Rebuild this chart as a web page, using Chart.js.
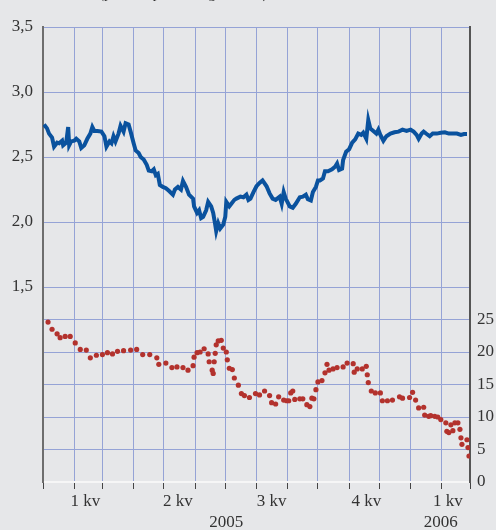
<!DOCTYPE html>
<html>
<head>
<meta charset="utf-8">
<script src="https://cdn.jsdelivr.net/npm/chart.js@4.4.1/dist/chart.umd.min.js"></script>
<style>
  html, body { margin: 0; padding: 0; background: #e6e7e9; overflow: hidden; }
  #wrap { position: relative; width: 496px; height: 530px; }
  #note { position: absolute; left: 99px; top: -15px; font: 15px "Liberation Serif", serif; color: #333; white-space: nowrap; }
</style>
</head>
<body>
<div id="wrap">
  <canvas id="chart" width="496" height="530"></canvas>
  <div id="note">(procent per år, dagsvärden)</div>
</div>
<script>
// x values are days counted from 1 Jan 2005
const monthStarts = [0, 31, 59, 90, 120, 151, 181, 212, 243, 273, 304, 334, 365, 396, 424];
const quarterDays = [42, 134, 227, 321, 402];
const quarterLabels = ['1 kv', '2 kv', '3 kv', '4 kv', '1 kv'];
const yearDays = [182, 395];
const yearLabels = ['2005', '2006'];

// daily rate, left axis
const rateDays = [1,4,6,9,11,14,16,19,20,23,25,26,28,31,33,36,38,41,44,47,49,51,54,58,61,63,66,68,70,72,
  75,77,80,82,85,87,90,92,95,97,100,103,105,108,110,112,114,116,119,122,125,129,131,134,137,139,142,145,149,150,
  153,155,157,159,162,164,167,169,171,172,174,176,179,181,182,185,187,190,192,196,199,202,204,
  206,209,212,215,218,222,225,228,231,235,237,239,241,245,248,251,255,258,261,263,266,268,271,273,275,278,
  280,283,287,290,292,294,297,298,301,304,307,310,313,316,318,321,323,325,328,331,333,335,338,341,345,349,
  353,357,361,365,368,371,373,376,378,381,384,387,391,395,399,403,407,411,415,418,421];
const rateValues = [2.75,2.72,2.68,2.65,2.58,2.61,2.605,2.625,2.59,2.61,2.73,2.59,2.62,2.625,2.64,2.62,2.57,2.59,2.64,2.68,
  2.73,2.70,2.70,2.695,2.66,2.58,2.62,2.605,2.66,2.62,2.68,2.74,2.695,2.76,2.75,2.695,2.605,2.55,2.53,2.50,
  2.48,2.44,2.395,2.39,2.405,2.36,2.37,2.285,2.27,2.26,2.24,2.21,2.25,2.27,2.25,2.315,2.27,2.21,2.18,2.12,
  2.07,2.09,2.03,2.04,2.09,2.155,2.12,2.07,1.98,1.93,1.99,1.95,1.98,2.04,2.155,2.12,2.14,2.17,2.18,2.195,
  2.19,2.21,2.17,
  2.18,2.23,2.275,2.30,2.32,2.275,2.22,2.18,2.17,2.195,2.14,2.23,2.18,2.12,2.11,2.14,2.19,2.195,2.21,2.175,
  2.165,2.23,2.27,2.32,2.32,2.335,2.39,2.39,2.405,2.425,2.45,2.40,2.41,2.477,2.54,2.56,2.61,2.636,2.68,2.67,
  2.687,2.64,2.785,2.72,2.70,2.68,2.71,2.67,2.625,2.66,2.68,2.69,2.695,2.71,2.70,2.71,2.695,2.67,2.64,2.68,
  2.695,2.677,2.66,2.68,2.68,2.687,2.69,2.68,2.68,2.68,2.67,2.677,2.677];

// dotted series, right axis
const dotDays = [5,9,14,17,22,27,32,37,43,47,53,59,64,69,74,80,87,93,99,106,
  113,115,122,128,133,139,144,149,150,153,156,160,164,165,168,169,170,171,172,174,
  177,179,182,183,185,188,190,194,197,200,205,211,215,
  220,225,227,231,234,239,242,244,246,248,250,255,258,262,265,267,269,271,273,277,
  280,282,284,288,292,298,302,308,309,312,317,321,322,323,326,330,335,337,342,347,
  354,357,364,367,370,373,378,379,383,385,389,392,395,400,401,403,405,407,409,412,
  414,415,416,421,422,423];
const dotValues = [24.6,23.5,22.8,22.2,22.4,22.4,21.4,20.4,20.3,19.1,19.5,19.6,19.9,19.7,20.1,20.2,20.3,20.4,19.6,19.6,
  19.1,18.1,18.3,17.6,17.7,17.6,17.2,17.9,19.2,19.9,20.0,20.5,19.7,18.5,17.2,16.7,18.5,19.8,21.1,21.7,
  21.8,20.6,20.0,18.8,17.5,17.3,16.0,14.9,13.6,13.3,13.0,13.6,13.4,
  14.0,13.3,12.2,12.0,13.1,12.6,12.5,12.5,13.7,14.0,12.7,12.8,12.8,11.9,11.6,12.9,12.8,14.2,15.4,15.6,
  16.8,18.1,17.2,17.4,17.6,17.7,18.3,18.2,16.9,17.4,17.4,17.8,16.5,15.3,14.0,13.7,13.7,12.5,12.5,12.6,
  13.1,12.9,13.0,13.8,12.6,11.4,11.5,10.3,10.1,10.2,10.1,10.0,9.6,9.1,7.8,7.6,8.8,7.9,9.1,9.1,
  8.1,6.8,5.8,6.5,5.3,4.0];

const gridBlue = '#95a3d6';
const blank = 'rgba(0,0,0,0)';

Chart.defaults.font.family = '"Liberation Serif", "Times New Roman", serif';
Chart.defaults.font.size = 17;
Chart.defaults.color = '#333';

const xLabel = v => {
  const q = quarterDays.indexOf(v);
  if (q >= 0) return quarterLabels[q];
  const y = yearDays.indexOf(v);
  if (y >= 0) return ['', yearLabels[y]];
  return '';
};

new Chart(document.getElementById('chart'), {
  type: 'line',
  data: {
    datasets: [
      {
        data: rateDays.map((d, i) => ({ x: d, y: rateValues[i] })),
        yAxisID: 'y',
        borderColor: '#0a529e',
        borderWidth: 4,
        pointRadius: 0,
        tension: 0,
      },
      {
        data: dotDays.map((d, i) => ({ x: d, y: dotValues[i] })),
        yAxisID: 'y2',
        showLine: false,
        pointRadius: 2.6,
        pointBorderWidth: 0,
        backgroundColor: '#b3322d',
      },
    ],
  },
  options: {
    responsive: false,
    animation: false,
    layout: { padding: { top: 27, left: 0, right: 0, bottom: 0 } },
    plugins: { legend: { display: false }, tooltip: { enabled: false } },
    scales: {
      x: {
        type: 'linear',
        min: 0,
        max: 424,
        afterBuildTicks: s => {
          s.ticks = [...monthStarts, ...quarterDays, ...yearDays].sort((a, b) => a - b).map(v => ({ value: v }));
        },
        afterFit: s => { s.height = 48; },
        grid: {
          color: c => (c.tick && monthStarts.includes(c.tick.value)) ? gridBlue : blank,
          tickColor: c => (c.tick && monthStarts.includes(c.tick.value)) ? '#444' : blank,
          tickLength: 7,
        },
        border: { color: '#f6f6f6', width: 2 },
        ticks: { autoSkip: false, maxRotation: 0, padding: 2.5, callback: v => xLabel(v) },
      },
      y: {
        position: 'left',
        min: 0,
        max: 3.5,
        afterFit: s => { s.width = 43; },
        grid: { color: c => (c.tick && c.tick.value > 0) ? gridBlue : blank, drawTicks: false },
        border: { color: '#6e6e6e', width: 2 },
        ticks: { stepSize: 0.5, padding: 10, callback: v => v >= 1.5 ? v.toFixed(1).replace('.', ',') : '' },
      },
      y2: {
        position: 'right',
        min: 0,
        max: 70,
        afterFit: s => { s.width = 26; },
        grid: { color: c => (c.tick && c.tick.value > 0 && c.tick.value <= 25) ? gridBlue : blank, drawTicks: false },
        border: { color: '#555', width: 2 },
        ticks: { stepSize: 5, padding: 7, callback: v => v <= 25 ? String(v) : '' },
      },
    },
  },
});
</script>
</body>
</html>
